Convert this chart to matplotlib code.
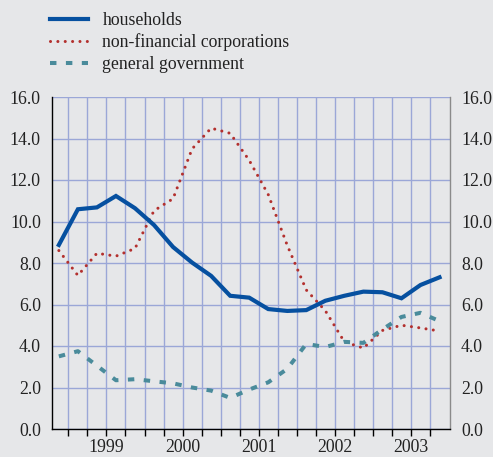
import matplotlib
matplotlib.use("Agg")
import matplotlib.pyplot as plt
import numpy as np

# Quarterly data, 1998 Q4 - 2003 Q4
households = [8.87, 10.59, 10.68, 11.23, 10.64, 9.83, 8.77, 8.02, 7.38, 6.42,
              6.33, 5.78, 5.69, 5.73, 6.18, 6.42, 6.62, 6.59, 6.30, 6.94, 7.31]
nonfin_corp = [8.6, 7.4, 8.47, 8.33, 8.7, 10.52, 11.1, 13.5, 14.5, 14.25,
               12.95, 11.3, 8.85, 6.7, 5.7, 4.2, 3.9, 4.75, 5.0, 4.87, 4.72]
general_gov = [3.5, 3.75, 3.05, 2.35, 2.4, 2.3, 2.2, 2.0, 1.85, 1.5,
               1.9, 2.25, 2.9, 4.1, 3.95, 4.2, 4.15, 4.8, 5.4, 5.6, 5.2]
years = ["1999", "2000", "2001", "2002", "2003"]
series_labels = ["households", "non-financial corporations", "general government"]
yticks = [0, 2, 4, 6, 8, 10, 12, 14, 16]

bg = "#e6e7e9"
grid_c = "#9ba7d7"
c_hh = "#0650a0"
c_nfc = "#b3302e"
c_gg = "#4a8b9b"
txt_c = "#222222"
fs = 12.8
fam = "Liberation Serif"

fig = plt.figure(figsize=(4.93, 4.57), dpi=100, facecolor=bg)
ax = fig.add_axes([52/493, 28/457, 398/493, 332/457])
ax.set_facecolor(bg)

# x positions: quarter midpoints, 0 = start of 1999
x = np.arange(len(households)) - 0.5

ax.plot(x, households, color=c_hh, lw=3.0, solid_joinstyle="miter",
        label=series_labels[0], zorder=4)
ax.plot(x, nonfin_corp, color=c_nfc, lw=2.2, linestyle=(0, (0.01, 2.4)),
        dash_capstyle="round", label=series_labels[1], zorder=3)
ax.plot(x, general_gov, color=c_gg, lw=2.9, linestyle=(0, (1.6, 2.35)),
        dash_capstyle="butt", label=series_labels[2], zorder=3)

ax.set_xlim(-0.86, 20.05)
ax.set_ylim(0, 16)

# gridlines
for v in range(0, 20):
    ax.axvline(v, color=grid_c, lw=1.0, zorder=1)
for v in yticks:
    ax.axhline(v, color=grid_c, lw=1.0, zorder=1)

ax.set_yticks(yticks)
ax.set_yticklabels([f"{v:.1f}" for v in yticks])
ax.tick_params(axis="y", length=0, labelsize=fs, pad=8,
               labelright=True, labelleft=True, colors=txt_c)
for t in ax.yaxis.get_major_ticks():
    t.label1.set_family(fam)
    t.label2.set_family(fam)

# quarter ticks on x-axis
qt = list(range(0, 20))
ax.set_xticks(qt)
ax.set_xticklabels([""] * len(qt))
ax.tick_params(axis="x", which="major", length=5, width=1, color="black",
               direction="out")

# year labels centred in each year
year_pos = [2, 6, 10, 14, 18]
for xp, lab in zip(year_pos, years):
    ax.annotate(lab, xy=(xp, 0), xycoords=("data", "axes fraction"),
                xytext=(0, -7.5), textcoords="offset points",
                ha="center", va="top", fontsize=fs, family=fam, color=txt_c)

ax.spines["top"].set_visible(False)
ax.spines["left"].set_color("black")
ax.spines["left"].set_linewidth(1.0)
ax.spines["right"].set_color("#8a8a8a")
ax.spines["right"].set_linewidth(1.0)
ax.spines["bottom"].set_color("black")
ax.spines["bottom"].set_linewidth(1.0)

leg = fig.legend(loc="upper left", bbox_to_anchor=(50/493, 1 - 12/457),
                 frameon=False, prop={"family": fam, "size": fs},
                 handlelength=2.15, handletextpad=0.8, labelspacing=0.25,
                 borderpad=0, borderaxespad=0)
for t in leg.get_texts():
    t.set_color(txt_c)

fig.savefig("out.png", dpi=100, facecolor=bg)
